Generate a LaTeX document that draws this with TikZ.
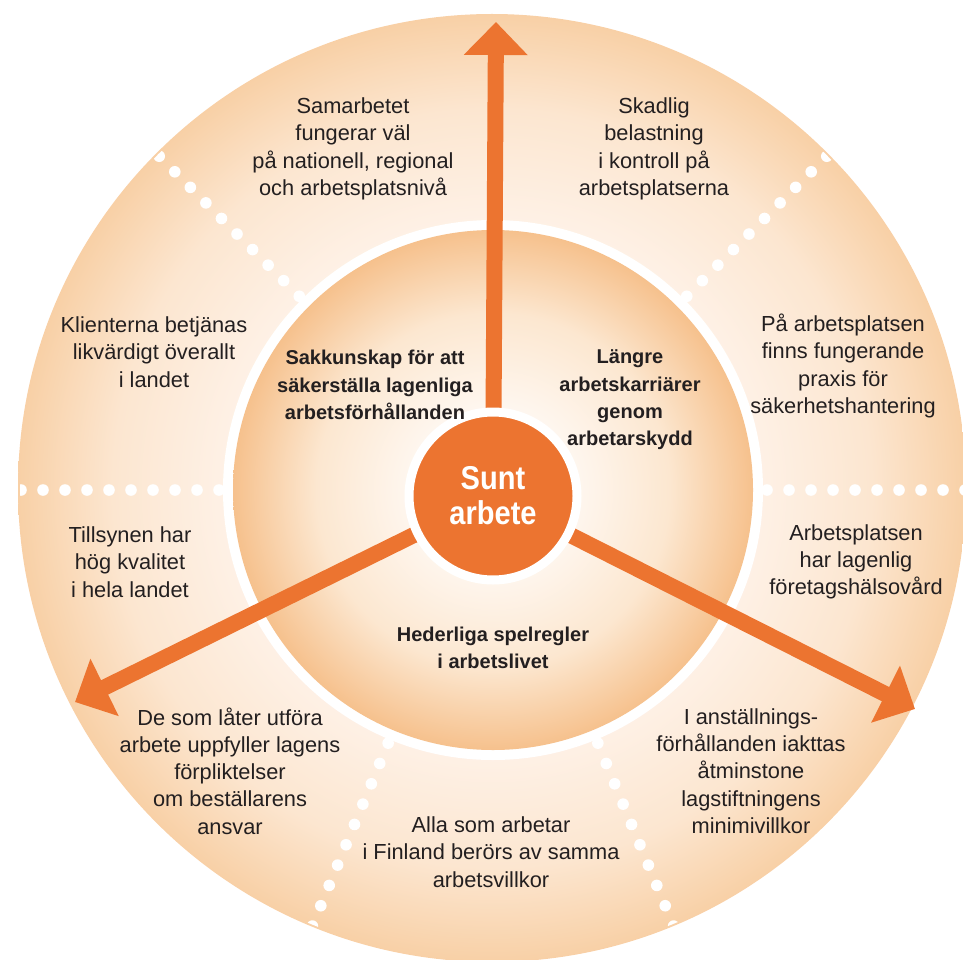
\documentclass[tikz,border=0pt]{standalone}
\usepackage{fontspec}
\setmainfont{Liberation Sans}
\newfontfamily\suntfont[FakeStretch=0.88]{Liberation Sans}
\usetikzlibrary{arrows.meta}
\definecolor{orng}{RGB}{236,116,48}
\definecolor{ringdark}{RGB}{248,208,166}
\definecolor{ringmid}{RGB}{252,230,208}
\definecolor{ringlight}{RGB}{254,241,230}
\definecolor{discedge}{RGB}{246,193,141}
\definecolor{discmid}{RGB}{252,231,208}
\definecolor{disccenter}{RGB}{255,250,246}
\definecolor{txt}{RGB}{35,31,32}
\pgfdeclareradialshading{outershade}{\pgfpoint{0bp}{0bp}}{color(0bp)=(ringlight); color(14bp)=(ringlight); color(20bp)=(ringmid); color(25bp)=(ringdark); color(50bp)=(ringdark)}
\pgfdeclareradialshading{discshade}{\pgfpoint{0bp}{0bp}}{color(0bp)=(disccenter); color(6bp)=(disccenter); color(17bp)=(discmid); color(25bp)=(discedge); color(50bp)=(discedge)}
\tikzset{
  lbl/.style={align=center, text=txt, inner sep=0pt, font=\fontsize{21.8}{27.3}\selectfont},
  blbl/.style={align=center, text=txt, inner sep=0pt, font=\bfseries\fontsize{20}{27.3}\selectfont},
  arr/.style={draw=orng, line width=16pt, -{Triangle[length=33pt,width=62pt]}},
  wdot/.style={fill=white},
  suntbox/.style={circle, fill=orng, draw=white, line width=9pt, minimum size=168pt, inner sep=0pt,
    align=center, text=white, font=\suntfont\bfseries\fontsize{33}{37}\selectfont}
}
\begin{document}
\begin{tikzpicture}[x=1pt,y=-1pt]
\useasboundingbox (0,0) rectangle (963,960);
\coordinate (O) at (492,488);
\coordinate (D) at (493,490);
\coordinate (C) at (493,496);
% outer ring
\path[shading=outershade] (O) circle[radius=474pt];
% dotted separators
\begin{scope}
  \clip (O) circle[radius=472pt];
  \foreach \a in {0,45,135,180,247.5,292.5}{
    \foreach \r in {274,296,...,474}{
      \fill[wdot] ([shift={(\a:\r pt)}]D) circle[radius=5.8pt];
    }
  }
\end{scope}
% inner disc
\fill[white] (D) circle[radius=270pt];
\path[shading=discshade] (D) circle[radius=260pt];
% arrows
\coordinate (TU) at (496,22);
\coordinate (TL) at (75,702);
\coordinate (TR) at (915,709);
\draw[arr] (C) -- (TU);
\draw[arr] (C) -- (TL);
\draw[arr] (C) -- (TR);
% centre
\node[suntbox] (c) at (C) {Sunt\\[-2pt]arbete};
% outer texts
\node[lbl] (t1) at (353,149) {Samarbetet\\fungerar väl\\på nationell, regional\\och arbetsplatsnivå};
\node[lbl] (t2) at (654,149) {Skadlig\\belastning\\i kontroll på\\arbetsplatserna};
\node[lbl] (t3) at (154,352) {Klienterna betjänas\\likvärdigt överallt\\i landet};
\node[lbl] (t4) at (843,366) {På arbetsplatsen\\finns fungerande\\praxis för\\säkerhetshantering};
\node[lbl] (t5) at (130,562) {Tillsynen har\\hög kvalitet\\i hela landet};
\node[lbl] (t6) at (856,562) {Arbetsplatsen\\har lagenlig\\företagshälsovård};
\node[lbl] (t7) at (230,771) {De som låter utföra\\arbete uppfyller lagens\\förpliktelser\\om beställarens\\ansvar};
\node[lbl] (t8) at (751,771) {I anställnings-\\förhållanden iakttas\\åtminstone\\lagstiftningens\\minimivillkor};
\node[lbl] (t9) at (491,852) {Alla som arbetar\\i Finland berörs av samma\\arbetsvillkor};
% inner texts
\node[blbl] (b1) at (375,385) {Sakkunskap för att\\säkerställa lagenliga\\arbetsförhållanden};
\node[blbl] (b2) at (630,400) {Längre\\arbetskarriärer\\genom\\arbetarskydd};
\node[blbl] (b3) at (493,648) {Hederliga spelregler\\i arbetslivet};
\end{tikzpicture}
\end{document}
